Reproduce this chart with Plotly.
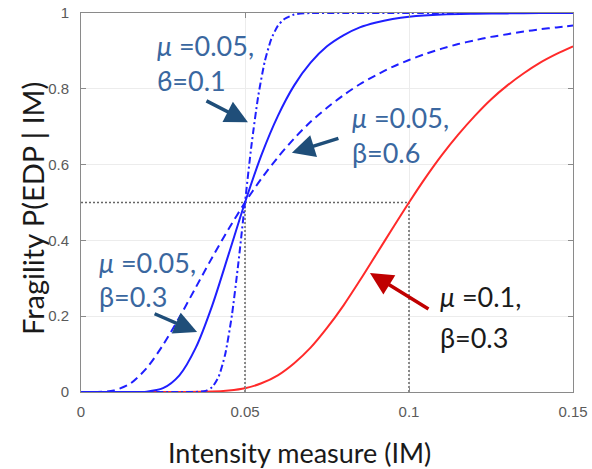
import plotly.graph_objects as go

# Intensity measure samples and fragility values
im_b03 = [0.0, 0.015, 0.02, 0.025, 0.03, 0.035, 0.04, 0.045, 0.05, 0.055, 0.06, 0.065, 0.07,
          0.075, 0.08, 0.085, 0.09, 0.095, 0.1, 0.11, 0.12, 0.13, 0.14, 0.15]
p_b03 = [0.0, 0.0, 0.001, 0.010, 0.044, 0.117, 0.228, 0.363, 0.5, 0.625, 0.728, 0.809, 0.869,
         0.912, 0.941, 0.962, 0.975, 0.984, 0.990, 0.996, 0.998, 0.999, 1.0, 1.0]

im_b06 = [0.0, 0.005, 0.01, 0.015, 0.02, 0.025, 0.03, 0.035, 0.04, 0.045, 0.05, 0.055, 0.06,
          0.065, 0.07, 0.075, 0.08, 0.085, 0.09, 0.095, 0.1, 0.105, 0.11, 0.115, 0.12, 0.125,
          0.13, 0.135, 0.14, 0.145, 0.15]
p_b06 = [0.0, 0.0, 0.004, 0.022, 0.063, 0.124, 0.197, 0.276, 0.355, 0.430, 0.5, 0.563, 0.619,
         0.669, 0.713, 0.750, 0.783, 0.812, 0.836, 0.858, 0.876, 0.892, 0.906, 0.918, 0.928,
         0.937, 0.944, 0.951, 0.957, 0.962, 0.967]

im_b01 = [0.0, 0.03, 0.035, 0.038, 0.04, 0.042, 0.044, 0.046, 0.048, 0.05, 0.052, 0.054, 0.056,
          0.058, 0.06, 0.062, 0.065, 0.07, 0.08, 0.1, 0.15]
p_b01 = [0.0, 0.0, 0.0, 0.003, 0.013, 0.041, 0.101, 0.202, 0.342, 0.5, 0.653, 0.779, 0.871,
         0.931, 0.966, 0.984, 0.996, 1.0, 1.0, 1.0, 1.0]

im_red = [0.0, 0.03, 0.04, 0.045, 0.05, 0.055, 0.06, 0.065, 0.07, 0.075, 0.08, 0.085, 0.09,
          0.095, 0.1, 0.105, 0.11, 0.115, 0.12, 0.125, 0.13, 0.135, 0.14, 0.145, 0.15]
p_red = [0.0, 0.0, 0.001, 0.004, 0.010, 0.023, 0.044, 0.076, 0.117, 0.169, 0.228, 0.294, 0.363,
         0.432, 0.5, 0.565, 0.625, 0.679, 0.728, 0.772, 0.809, 0.841, 0.869, 0.892, 0.912]

# median guide values
mu_values = [0.05, 0.1]
p_median = 0.5

x_ticks = [0, 0.05, 0.1, 0.15]
x_tick_labels = ["0", "0.05", "0.1", "0.15"]
y_ticks = [0, 0.2, 0.4, 0.6, 0.8, 1]
y_tick_labels = ["0", "0.2", "0.4", "0.6", "0.8", "1"]

BLUE = "#1f1fff"
RED = "#ff2a2a"
GUIDE = "#666666"
TXT_BLUE = "#3a67a0"
ARR_BLUE = "#1f4e79"
ARR_RED = "#c00000"
FONT = "Lato"
FS = 27

fig = go.Figure()

# dotted guides
fig.add_trace(go.Scatter(x=[0, mu_values[1]], y=[p_median, p_median], mode="lines",
                         line=dict(color=GUIDE, width=1.5, dash="2px,2px"), hoverinfo="skip"))
for m in mu_values:
    fig.add_trace(go.Scatter(x=[m, m], y=[0, p_median], mode="lines",
                             line=dict(color=GUIDE, width=1.5, dash="2px,2px"), hoverinfo="skip"))

fig.add_trace(go.Scatter(x=im_red, y=p_red, mode="lines", line=dict(color=RED, width=2, shape="spline", smoothing=0.8)))
fig.add_trace(go.Scatter(x=im_b06, y=p_b06, mode="lines", line=dict(color=BLUE, width=2, dash="8px,5px", shape="spline", smoothing=0.8)))
fig.add_trace(go.Scatter(x=im_b03, y=p_b03, mode="lines", line=dict(color=BLUE, width=2, shape="spline", smoothing=0.8)))
fig.add_trace(go.Scatter(x=im_b01, y=p_b01, mode="lines", line=dict(color=BLUE, width=2, dash="7px,3px,2px,3px", shape="spline", smoothing=0.6)))

axis_common = dict(showline=True, linecolor="#8a8a8a", linewidth=1, mirror="ticks",
                   ticks="inside", ticklen=5, tickcolor="#8a8a8a", automargin=False,
                   showgrid=True, gridcolor="#ececec", gridwidth=1, zeroline=False,
                   tickfont=dict(family="Liberation Sans, Arial", size=15, color="#5a5a5a"))

fig.update_xaxes(range=[0, 0.15], tickvals=x_ticks, ticktext=x_tick_labels, ticklabelstandoff=6, **axis_common)
fig.update_yaxes(range=[0, 1], tickvals=y_ticks, ticktext=y_tick_labels, ticklabelstandoff=8, **axis_common)

ann = []
def txt(x, y, s, color):
    ann.append(dict(x=x, y=y, xref="x", yref="y", text=s, showarrow=False, xanchor="left",
                    yanchor="middle", font=dict(family=FONT, size=FS, color=color)))

def arrow(x, y, ax, ay, color):
    ann.append(dict(x=x, y=y, xref="x", yref="y", ax=ax, ay=ay, text="", showarrow=True,
                    arrowhead=2, arrowsize=1.3, arrowwidth=3.5, arrowcolor=color))

txt(0.0226, 0.913, "<i>μ</i> =0.05,", TXT_BLUE)
txt(0.0226, 0.823, "ϐ=0.1", TXT_BLUE)
arrow(0.0509, 0.712, -43, -22, ARR_BLUE)

txt(0.0820, 0.723, "<i>μ</i> =0.05,", TXT_BLUE)
txt(0.0820, 0.631, "β=0.6", TXT_BLUE)
arrow(0.0643, 0.631, 48, -15, ARR_BLUE)

txt(0.0049, 0.343, "<i>μ</i> =0.05,", TXT_BLUE)
txt(0.0049, 0.251, "β=0.3", TXT_BLUE)
arrow(0.0354, 0.158, -44, -19, ARR_BLUE)

txt(0.1088, 0.251, "<i>μ</i> =0.1,", "#1a1a1a")
txt(0.1088, 0.1425, "β=0.3", "#1a1a1a")
arrow(0.0881, 0.314, 60, 37, ARR_RED)

# axis titles
ann.append(dict(x=0.445, y=-0.16, xref="paper", yref="paper", text="Intensity measure (IM)",
                showarrow=False, xanchor="center", yanchor="middle",
                font=dict(family=FONT, size=FS, color="#1a1a1a")))
ann.append(dict(x=-0.1, y=0.485, xref="paper", yref="paper", text="Fragility P(EDP | IM)",
                showarrow=False, xanchor="center", yanchor="middle", textangle=-90,
                font=dict(family=FONT, size=29, color="#1a1a1a")))

fig.update_layout(width=592, height=469, margin=dict(l=81, r=19, t=13, b=77),
                  paper_bgcolor="white", plot_bgcolor="white", showlegend=False,
                  annotations=ann)

fig.write_html("out.html", config={"displayModeBar": False},
               post_script="document.body.style.margin='0';document.body.style.overflow='hidden';")
